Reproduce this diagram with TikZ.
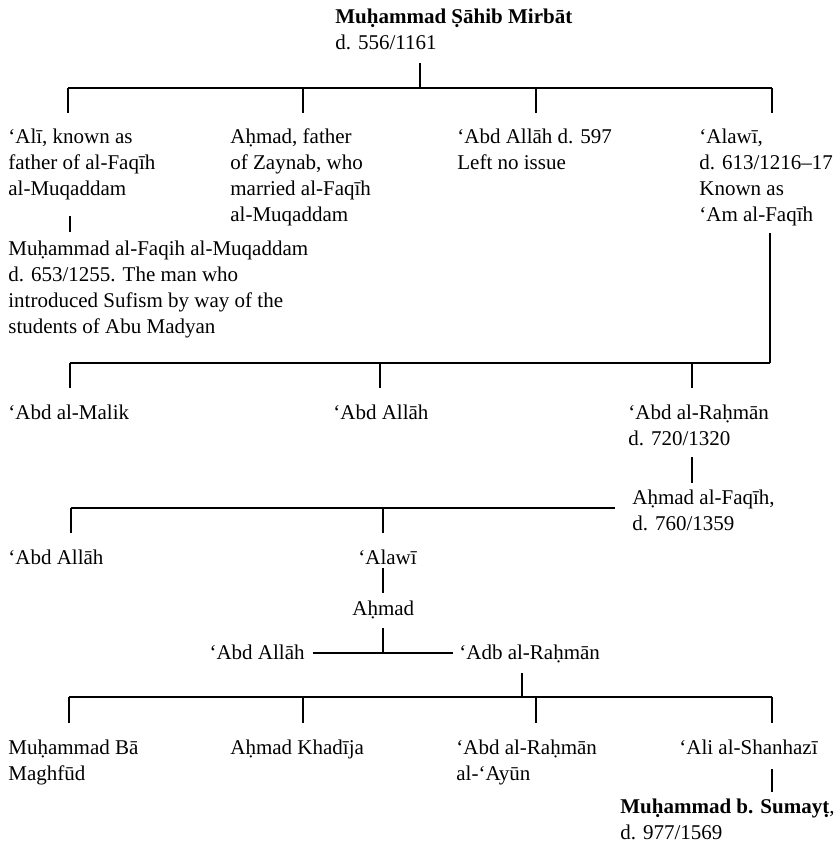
\documentclass[tikz,border=0pt]{standalone}
\usepackage{fontspec}
\setmainfont{Liberation Serif}
\begin{document}
\begin{tikzpicture}[x=0.5pt,y=-0.5pt,
  conn/.style={line width=1pt},
  lbl/.style={anchor=base west, inner sep=0pt, align=left, font=\fontsize{10.5}{13}\selectfont},
  lblr/.style={lbl, anchor=base east}]
\useasboundingbox (0,0) rectangle (836,843);
% nodes (base anchor = baseline of the last line)
\node[lbl] (root) at (335,49) {\textbf{Muḥammad Ṣāhib Mirbāt}\\d. 556/1161};
\node[lbl] (ali) at (8,195) {‘Alī, known as\\father of al-Faqīh\\al-Muqaddam};
\node[lbl] (ahmad1) at (230,221) {Aḥmad, father\\of Zaynab, who\\married al-Faqīh\\al-Muqaddam};
\node[lbl] (abdallah1) at (457,169) {‘Abd Allāh d. 597\\Left no issue};
\node[lbl] (alawi1) at (699,221) {‘Alawī,\\d. 613/1216–17\\Known as\\‘Am al-Faqīh};
\node[lbl] (faqih) at (8,333) {Muḥammad al-Faqih al-Muqaddam\\d. 653/1255. The man who\\introduced Sufism by way of the\\students of Abu Madyan};
\node[lbl] (malik) at (8,419) {‘Abd al-Malik};
\node[lbl] (abdallah2) at (333,419) {‘Abd Allāh};
\node[lbl] (rahman1) at (628,445) {‘Abd al-Raḥmān\\d. 720/1320};
\node[lbl] (ahmadf) at (632,530) {Aḥmad al-Faqīh,\\d. 760/1359};
\node[lbl] (abdallah3) at (8,564) {‘Abd Allāh};
\node[lbl] (alawi2) at (358,564) {‘Alawī};
\node[lbl] (ahmad2) at (352,615) {Aḥmad};
\node[lblr] (abdallah4) at (305,659) {‘Abd Allāh};
\node[lbl] (adb) at (459,659) {‘Adb al-Raḥmān};
\node[lbl] (maghfud) at (8,780) {Muḥammad Bā\\Maghfūd};
\node[lbl] (khadija) at (230,754) {Aḥmad Khadīja};
\node[lbl] (ayun) at (456,780) {‘Abd al-Raḥmān\\al-‘Ayūn};
\node[lbl] (shanhazi) at (679,754) {‘Ali al-Shanhazī};
\node[lbl] (sumayt) at (620,839) {\textbf{Muḥammad b. Sumayṭ},\\d. 977/1569};
% junction coordinates
\coordinate (r0) at (420,63);
\coordinate (b1w) at (68,88);  \coordinate (b1e) at (772,88);
\coordinate (b1a) at (303,88); \coordinate (b1b) at (536,88); \coordinate (b1r) at (420,88);
\coordinate (a0) at (70,216);
\coordinate (l0) at (770,233);
\coordinate (b2w) at (70,363); \coordinate (b2e) at (770,363);
\coordinate (b2a) at (380,363); \coordinate (b2b) at (692,363);
\coordinate (ra0) at (692,457);
\coordinate (b3w) at (71,508); \coordinate (b3e) at (615,508); \coordinate (b3a) at (383,508);
\coordinate (al0) at (383,568);
\coordinate (ah0) at (383,628);
\coordinate (b4w) at (313,653); \coordinate (b4e) at (453,653); \coordinate (b4m) at (383,653);
\coordinate (ad0) at (522,673);
\coordinate (b5w) at (69,697); \coordinate (b5e) at (772,697);
\coordinate (b5a) at (303,697); \coordinate (b5b) at (536,697); \coordinate (b5m) at (522,697);
\coordinate (sh0) at (772,769);
% connectors
\draw[conn] (r0) -- (b1r);
\draw[conn] (b1w) -- (b1e);
\draw[conn] (b1w) -- ++(0,25);
\draw[conn] (b1a) -- ++(0,25);
\draw[conn] (b1b) -- ++(0,25);
\draw[conn] (b1e) -- ++(0,25);
\draw[conn] (a0) -- ++(0,16);
\draw[conn] (l0) -- (b2e);
\draw[conn] (b2w) -- (b2e);
\draw[conn] (b2w) -- ++(0,25);
\draw[conn] (b2a) -- ++(0,25);
\draw[conn] (b2b) -- ++(0,25);
\draw[conn] (ra0) -- ++(0,26);
\draw[conn] (b3w) -- (b3e);
\draw[conn] (b3w) -- ++(0,25);
\draw[conn] (b3a) -- ++(0,25);
\draw[conn] (al0) -- ++(0,25);
\draw[conn] (ah0) -- (b4m);
\draw[conn] (b4w) -- (b4e);
\draw[conn] (ad0) -- (b5m);
\draw[conn] (b5w) -- (b5e);
\draw[conn] (b5w) -- ++(0,26);
\draw[conn] (b5a) -- ++(0,26);
\draw[conn] (b5b) -- ++(0,26);
\draw[conn] (b5e) -- ++(0,26);
\draw[conn] (sh0) -- ++(0,23);
\end{tikzpicture}
\end{document}
